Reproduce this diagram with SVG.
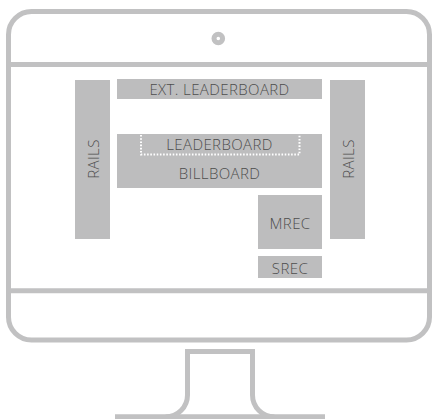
<svg xmlns="http://www.w3.org/2000/svg" width="433" height="419" viewBox="0 0 433 419">
<style>
.frame{fill:none;stroke:#c1c1c2;stroke-width:5}
.ad{fill:#bdbdbe}
.lbl{font-family:"Open Sans","Noto Sans","Liberation Sans",sans-serif;font-weight:300;font-size:15px;letter-spacing:0.4px;fill:#4d4d4d;text-anchor:middle}
.dots{fill:none;stroke:#ffffff;stroke-width:2;stroke-dasharray:1.6 1.6}
</style>
<g id="monitor">
<rect class="frame" x="8.5" y="11.5" width="421" height="328.5" rx="23"/>
<line class="frame" x1="8.5" y1="64.5" x2="429.5" y2="64.5" stroke-width="4.5"/>
<line class="frame" x1="8.5" y1="290.8" x2="429.5" y2="290.8"/>
<circle class="frame" cx="218.3" cy="38.5" r="4.3" stroke-width="3.2"/>
</g>
<g id="stand">
<path class="frame" d="M165.5 417 A22 22 0 0 0 187.5 395 V351.5 H252.5 V395 A22 22 0 0 0 274.5 417"/>
<line class="frame" x1="115" y1="416.8" x2="325" y2="416.8"/>
</g>
<g id="rails-left">
<rect class="ad" x="75" y="80" width="35" height="159"/>
<text class="lbl" transform="translate(98.8,159) rotate(-90)">RAILS</text>
</g>
<g id="ext-leaderboard">
<rect class="ad" x="117" y="79" width="205" height="20"/>
<text class="lbl" x="219.5" y="95">EXT. LEADERBOARD</text>
</g>
<g id="rails-right">
<rect class="ad" x="330" y="80" width="35" height="159"/>
<text class="lbl" transform="translate(353.5,159) rotate(-90)">RAILS</text>
</g>
<g id="billboard">
<rect class="ad" x="117" y="134" width="205" height="54"/>
<text class="lbl" x="219.5" y="178.5">BILLBOARD</text>
</g>
<g id="leaderboard">
<path class="dots" d="M141 135 V154.5 H299.5 V135"/>
<text class="lbl" x="219.5" y="150">LEADERBOARD</text>
</g>
<g id="mrec">
<rect class="ad" x="258" y="195" width="64" height="54"/>
<text class="lbl" x="290" y="228.5">MREC</text>
</g>
<g id="srec">
<rect class="ad" x="258" y="256" width="64" height="22"/>
<text class="lbl" x="290" y="273.5">SREC</text>
</g>
</svg>
